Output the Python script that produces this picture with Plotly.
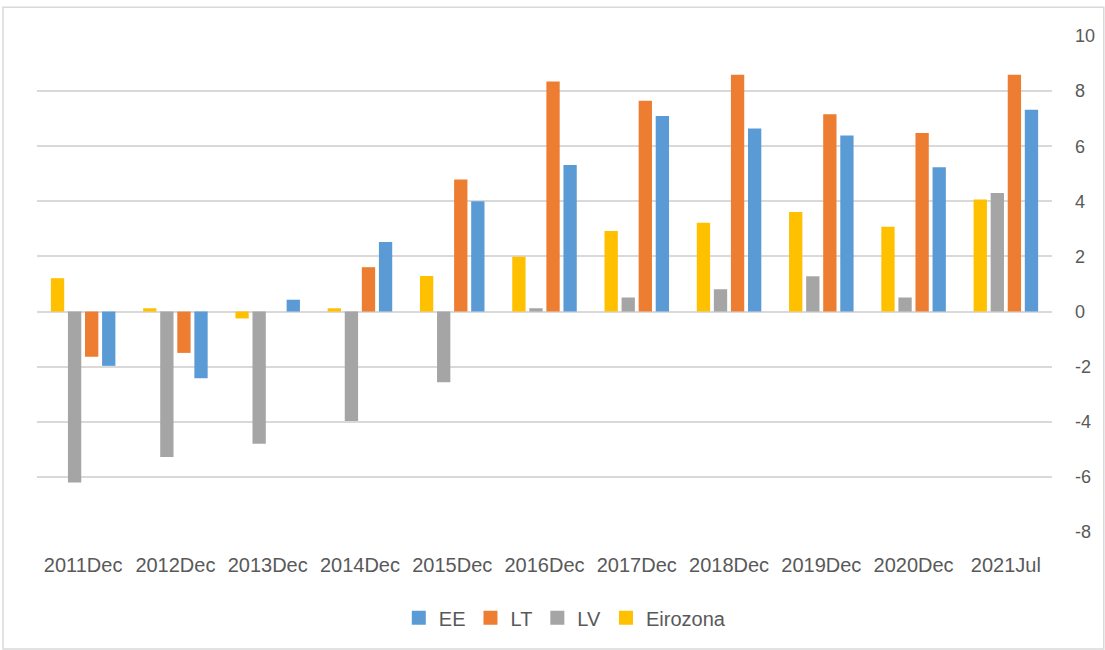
import plotly.graph_objects as go

categories = ["2011Dec", "2012Dec", "2013Dec", "2014Dec", "2015Dec", "2016Dec",
              "2017Dec", "2018Dec", "2019Dec", "2020Dec", "2021Jul"]

eirozona = [1.21, 0.12, -0.25, 0.12, 1.29, 1.99, 2.92, 3.22, 3.61, 3.08, 4.07]
lv = [-6.20, -5.28, -4.80, -3.97, -2.57, 0.12, 0.51, 0.81, 1.28, 0.51, 4.30]
lt = [-1.64, -1.50, 0.0, 1.61, 4.79, 8.35, 7.65, 8.59, 7.16, 6.48, 8.59]
ee = [-1.97, -2.42, 0.43, 2.52, 4.00, 5.32, 7.10, 6.64, 6.39, 5.24, 7.32]

tick_vals = [-8, -6, -4, -2, 0, 2, 4, 6, 8, 10]
tick_text = ["-8", "-6", "-4", "-2", "0", "2", "4", "6", "8", "10"]

TEXT = "#595959"
GRID = "#d9d9d9"
FONT = "Liberation Sans"

# plotted in group order (left to right); legend lists them in reverse
series = [
    ("Eirozona", eirozona, "#ffc000", 4),
    ("LV", lv, "#a5a5a5", 3),
    ("LT", lt, "#ed7d31", 2),
    ("EE", ee, "#5b9bd5", 1),
]

fig = go.Figure()
for name, vals, color, rank in series:
    fig.add_trace(go.Bar(
        x=categories, y=vals, name=name, legendgroup=name,
        marker=dict(color=color, line=dict(width=0)),
        showlegend=False,
    ))
    # square legend key sized like the bar swatches
    fig.add_trace(go.Scatter(
        x=[None], y=[None], mode="markers", name=name, legendgroup=name,
        marker=dict(symbol="square", size=14, color=color),
        legendrank=rank, showlegend=True,
    ))

fig.update_layout(
    width=1105, height=650,
    margin=dict(l=37, r=53, t=36, b=118, autoexpand=False),
    paper_bgcolor="white", plot_bgcolor="white",
    barmode="group", bargap=0.26, bargroupgap=0.22,
    font=dict(family=FONT, size=18, color=TEXT),
    showlegend=True,
    legend=dict(orientation="h", x=0.52, xanchor="center", y=-0.173, yanchor="middle",
                font=dict(size=20, color=TEXT), traceorder="normal",
                itemwidth=30, itemsizing="trace"),
    xaxis=dict(showgrid=False, showline=False, ticks="", automargin=False,
               tickfont=dict(size=20, color=TEXT), ticklabelstandoff=19),
    yaxis=dict(side="right", range=[-8, 10], tickvals=tick_vals, ticktext=tick_text,
               showgrid=True, gridcolor=GRID, gridwidth=2,
               zeroline=True, zerolinecolor=GRID, zerolinewidth=2,
               showline=False, ticks="", automargin=False,
               tickfont=dict(size=18, color=TEXT), ticklabelstandoff=22),
    shapes=[dict(type="rect", xref="paper", yref="paper",
                 x0=-0.0335, x1=1.051, y0=-0.236, y1=1.058,
                 line=dict(color=GRID, width=1.5), fillcolor="rgba(0,0,0,0)",
                 layer="below")],
)

fig.write_html("out.html")
